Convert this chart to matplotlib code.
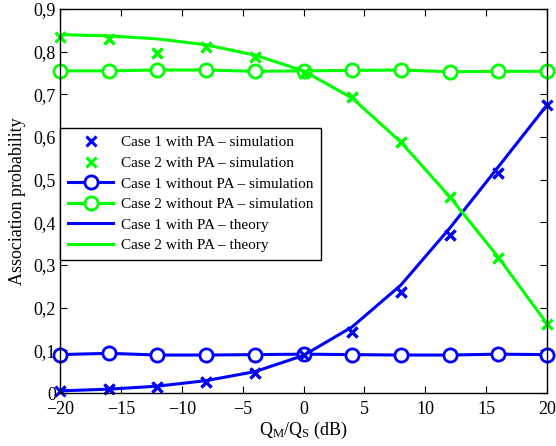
import matplotlib
matplotlib.use("Agg")
import matplotlib.pyplot as plt
from matplotlib.ticker import FixedLocator

plt.rcParams['font.family'] = ['Liberation Serif', 'DejaVu Serif']
plt.rcParams['mathtext.fontset'] = 'custom'
plt.rcParams['mathtext.rm'] = 'Liberation Serif'
plt.rcParams['mathtext.it'] = 'Liberation Serif:italic'

x = [-20, -16, -12, -8, -4, 0, 4, 8, 12, 16, 20]

case1_pa_sim = [0.005, 0.009, 0.014, 0.025, 0.046, 0.089, 0.142, 0.237, 0.370, 0.516, 0.675]
case2_pa_sim = [0.834, 0.829, 0.796, 0.810, 0.788, 0.751, 0.693, 0.589, 0.460, 0.316, 0.162]
case1_nopa_sim = [0.090, 0.093, 0.089, 0.089, 0.090, 0.091, 0.090, 0.089, 0.089, 0.091, 0.090]
case2_nopa_sim = [0.755, 0.755, 0.757, 0.757, 0.754, 0.755, 0.756, 0.757, 0.753, 0.754, 0.754]
case1_pa_theory = [0.005, 0.009, 0.016, 0.029, 0.050, 0.088, 0.155, 0.253, 0.386, 0.530, 0.675]
case2_pa_theory = [0.840, 0.837, 0.830, 0.816, 0.792, 0.755, 0.691, 0.588, 0.460, 0.318, 0.162]

labels = ['Case 1 with PA \u2013 simulation',
          'Case 2 with PA \u2013 simulation',
          'Case 1 without PA \u2013 simulation',
          'Case 2 without PA \u2013 simulation',
          'Case 1 with PA \u2013 theory',
          'Case 2 with PA \u2013 theory']

yticks = [0, 0.1, 0.2, 0.3, 0.4, 0.5, 0.6, 0.7, 0.8, 0.9]
ytick_labels = ['0', '0,1', '0,2', '0,3', '0,4', '0,5', '0,6', '0,7', '0,8', '0,9']
xticks = [-20, -15, -10, -5, 0, 5, 10, 15, 20]

blue = '#0000ff'
green = '#00ff00'

fig = plt.figure(figsize=(5.56, 4.46), dpi=100)
ax = fig.add_axes([60/556, 53/446, 487/556, 384/446])

h1, = ax.plot(x, case1_pa_sim, linestyle='none', marker='x', color=blue, ms=7, mew=2.2)
h2, = ax.plot(x, case2_pa_sim, linestyle='none', marker='x', color=green, ms=7, mew=2.2)
h3, = ax.plot(x, case1_nopa_sim, '-', marker='o', color=blue, lw=2.2, ms=9.5, mew=2, mfc='white', clip_on=False)
h4, = ax.plot(x, case2_nopa_sim, '-', marker='o', color=green, lw=2.2, ms=9.5, mew=2, mfc='white', clip_on=False)
h5, = ax.plot(x, case1_pa_theory, '-', color=blue, lw=2.2)
h6, = ax.plot(x, case2_pa_theory, '-', color=green, lw=2.2)
ax.plot(x, case1_pa_sim, linestyle='none', marker='x', color=blue, ms=7, mew=2.2, clip_on=False)
ax.plot(x, case2_pa_sim, linestyle='none', marker='x', color=green, ms=7, mew=2.2, clip_on=False)

ax.set_xlim(-20, 20)
ax.set_ylim(0, 0.9)
ax.xaxis.set_major_locator(FixedLocator(xticks))
ax.yaxis.set_major_locator(FixedLocator(yticks))
ax.set_yticklabels(ytick_labels)
ax.set_xticklabels(['\u2212' + str(-t) if t < 0 else str(t) for t in xticks])
ax.tick_params(direction='in', top=True, right=True, labelsize=13, length=5, width=0.8)
ax.tick_params(axis='x', pad=6)
ax.tick_params(axis='y', pad=3)
for s in ax.spines.values():
    s.set_linewidth(1.0)

ax.set_xlabel(r'Q$_\mathrm{M}$/Q$_\mathrm{S}$ (dB)', fontsize=13, labelpad=1)
ax.set_ylabel('Association probability', fontsize=13, labelpad=5)

leg = ax.legend([h1, h2, h3, h4, h5, h6], labels, loc='upper left',
                bbox_to_anchor=(0, 0.69), borderaxespad=0, fontsize=11,
                fancybox=False, framealpha=1, edgecolor='black',
                handlelength=3.0, labelspacing=0.45, handletextpad=0.5,
                borderpad=0.5)
leg.get_frame().set_linewidth(1.0)

fig.savefig('out.png', dpi=100)
